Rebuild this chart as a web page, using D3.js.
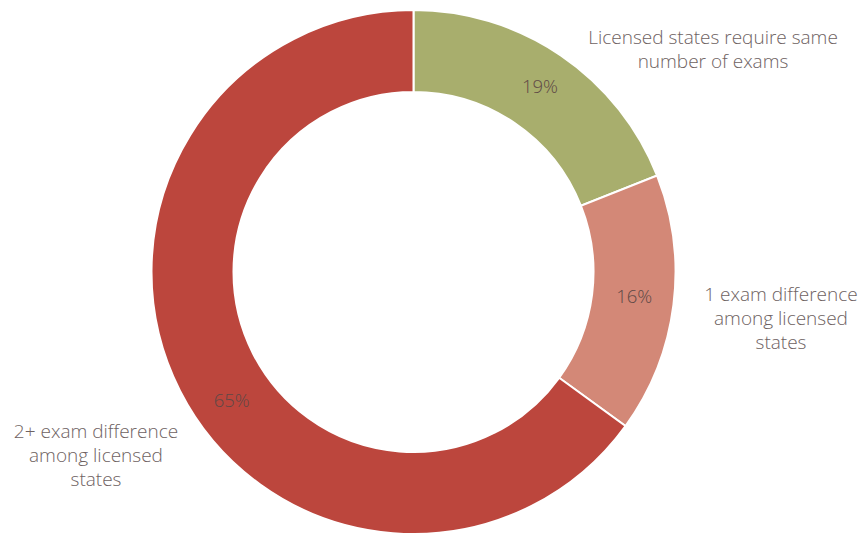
<!DOCTYPE html>
<html>
<head>
<meta charset="utf-8">
<script src="https://cdn.jsdelivr.net/npm/d3@7"></script>
<style>
  body { margin: 0; background: #fff; }
  svg text { font-family: "Open Sans", "Lato", sans-serif; font-weight: 300; fill: #6e6262; }
</style>
</head>
<body>
<div id="chart"></div>
<script>
// data
const categories = [
  'Licensed states require same number of exams',
  '1 exam difference among licensed states',
  '2+ exam difference among licensed states',
];
const values = [19, 16, 65];
const colors = ['#a8ae6d', '#d38877', '#bc463d'];

// outside label lines per slice
const labelLines = [
  ['Licensed states require same', 'number of exams'],
  ['1 exam difference', 'among licensed', 'states'],
  ['2+ exam difference', 'among licensed', 'states'],
];

const width = 863;
const height = 534;
const cx = 413.5;
const cy = 272;
const outerR = 262;
const innerR = 180;

// layout for the outside labels (top line centre)
const labelPos = [
  { x: 713, y: 44 },
  { x: 781, y: 301 },
  { x: 96, y: 438 },
];
// small nudges of the % labels along the ring (degrees)
const pctShift = [0, -1, -8];
const pctRadius = [225, 222, 222];

const svg = d3
  .select('#chart')
  .append('svg')
  .attr('width', width)
  .attr('height', height);

const group = svg.append('g').attr('transform', 'translate(' + cx + ',' + cy + ')');

const pie = d3.pie().sort(null).value((d) => d);
const arcs = pie(values);

const arc = d3.arc().innerRadius(innerR).outerRadius(outerR);

group
  .selectAll('path')
  .data(arcs)
  .join('path')
  .attr('d', arc)
  .attr('fill', (d, i) => colors[i])
  .attr('stroke', '#fff')
  .attr('stroke-width', 2);

// percent labels
group
  .selectAll('.pct')
  .data(arcs)
  .join('text')
  .attr('class', 'pct')
  .attr('text-anchor', 'middle')
  .attr('dominant-baseline', 'central')
  .style('font-size', '18.5px')
  .style('fill', '#5e4846')
  .attr('x', (d, i) => {
    const a = (d.startAngle + d.endAngle) / 2 + (pctShift[i] * Math.PI) / 180;
    return pctRadius[i] * Math.sin(a);
  })
  .attr('y', (d, i) => {
    const a = (d.startAngle + d.endAngle) / 2 + (pctShift[i] * Math.PI) / 180;
    return -pctRadius[i] * Math.cos(a);
  })
  .text((d) => d.data + '%');

// category labels
const cats = svg
  .selectAll('.cat')
  .data(labelLines)
  .join('text')
  .attr('class', 'cat')
  .attr('text-anchor', 'middle')
  .style('font-size', '19px')
  .attr('x', (d, i) => labelPos[i].x)
  .attr('y', (d, i) => labelPos[i].y);

cats
  .selectAll('tspan')
  .data((d, i) => d.map((t) => ({ t, i })))
  .join('tspan')
  .attr('x', (d) => labelPos[d.i].x)
  .attr('dy', (d, j) => (j === 0 ? 0 : 24))
  .text((d) => d.t);
</script>
</body>
</html>
